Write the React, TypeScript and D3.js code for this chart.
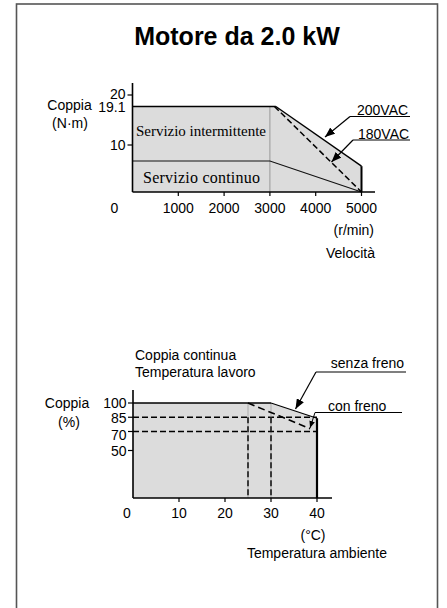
import React from 'react';
import * as d3 from 'd3';

// grafico 1: coppia / velocità
const speedTicks = [1000, 2000, 3000, 4000, 5000];
const torqueTicks = [10, 19.1, 20];
const curve200 = [
  { s: 0, t: 19.1 },
  { s: 3130, t: 19.1 },
  { s: 5000, t: 5.5 },
  { s: 5000, t: 0 },
];
const curve180 = [
  { s: 3100, t: 19.1 },
  { s: 5000, t: 0 },
];
const continuo = [
  { s: 0, t: 6.6 },
  { s: 3000, t: 6.6 },
  { s: 5000, t: 0 },
];

// grafico 2: coppia % / temperatura
const tempTicks = [10, 20, 30, 40];
const pctTicks = [50, 70, 85, 100];
const senzaFreno = [
  { c: 0, p: 100 },
  { c: 30, p: 100 },
  { c: 40, p: 84 },
  { c: 40, p: 0 },
];
const conFreno = [
  { c: 25, p: 100 },
  { c: 38.5, p: 73 },
];
const guideTemps = [25, 30];
const guidePcts = [85, 70];

const SANS = '"Liberation Sans", Arial, sans-serif';
const SERIF = '"Liberation Serif", "Times New Roman", serif';
const FILL = '#dcdcdc';

// piccoli aggiustamenti verticali delle etichette, come nell'originale
const torqueLabelDy: Record<string, number> = { '20': 4, '19.1': 5.5, '10': 5 };
const pctLabelDy: Record<string, number> = { '100': 4.5, '85': 5.5, '70': 8, '50': 5 };

const App: React.FC = () => {
  const x1 = d3.scaleLinear().domain([0, 5000]).range([132.5, 361.5]);
  const y1 = d3.scaleLinear().domain([0, 10, 19.1, 20]).range([192, 145, 106.5, 95]);

  const x2 = d3.scaleLinear().domain([0, 40]).range([133, 317]);
  const y2 = d3.scaleLinear().domain([0, 100]).range([498, 403]);

  const line1 = d3.line<{ s: number; t: number }>().x(d => x1(d.s)).y(d => y1(d.t));
  const area1 = d3.area<{ s: number; t: number }>().x(d => x1(d.s)).y0(y1(0)).y1(d => y1(d.t));
  const line2 = d3.line<{ c: number; p: number }>().x(d => x2(d.c)).y(d => y2(d.p));
  const area2 = d3.area<{ c: number; p: number }>().x(d => x2(d.c)).y0(y2(0)).y1(d => y2(d.p));

  const top = curve200.slice(0, 2);
  const slope200 = curve200.slice(1, 3);
  const edge200 = curve200.slice(2);

  return (
    <svg width={447} height={608} style={{ position: 'absolute', left: 0, top: 0, background: '#fff' }}>
      <defs>
        <marker id="arr" viewBox="0 0 10 8" refX={10} refY={4} markerWidth={10} markerHeight={8}
          markerUnits="userSpaceOnUse" orient="auto">
          <path d="M0,0 L10,4 L0,8 z" fill="#000" />
        </marker>
        <marker id="arrS" viewBox="0 0 10 8" refX={10} refY={4} markerWidth={7} markerHeight={6}
          markerUnits="userSpaceOnUse" orient="auto">
          <path d="M0,0 L10,4 L0,8 z" fill="#000" />
        </marker>
      </defs>

      {/* cornice */}
      <rect x={16.5} y={4} width={421} height={640} fill="none" stroke="#555" strokeWidth={1.6} />

      <text x={237} y={45} textAnchor="middle" fontFamily={SANS} fontWeight="bold" fontSize={25}>
        Motore da 2.0 kW
      </text>

      {/* ---------- grafico 1 ---------- */}
      <path d={area1(curve200) || ''} fill={FILL} />
      <line x1={x1(3000)} x2={x1(3000)} y1={y1(19.1)} y2={y1(0)} stroke="#888" strokeWidth={0.8} />
      <path d={line1(continuo) || ''} fill="none" stroke="#111" strokeWidth={1.2} />
      <path d={line1(top) || ''} fill="none" stroke="#000" strokeWidth={1.6} />
      <path d={line1(slope200) || ''} fill="none" stroke="#000" strokeWidth={1.4} />
      <path d={line1(edge200) || ''} fill="none" stroke="#000" strokeWidth={2} />
      <path d={line1(curve180) || ''} fill="none" stroke="#000" strokeWidth={1.5} strokeDasharray="6,3" />

      {/* assi */}
      <line x1={x1(0)} x2={x1(0)} y1={83} y2={y1(0)} stroke="#000" strokeWidth={1.6} />
      <line x1={x1(0)} x2={375} y1={y1(0)} y2={y1(0)} stroke="#000" strokeWidth={1.6} />
      {speedTicks.map(v => (
        <g key={v}>
          <line x1={x1(v)} x2={x1(v)} y1={y1(0)} y2={y1(0) + 4} stroke="#000" strokeWidth={1.2} />
          <text x={x1(v)} y={213} textAnchor="middle" fontFamily={SANS} fontSize={14}>{v}</text>
        </g>
      ))}
      <text x={x1(0) - 18} y={213} textAnchor="middle" fontFamily={SANS} fontSize={14}>0</text>
      {torqueTicks.map(v => (
        <g key={v}>
          {v !== 19.1 && (
            <line x1={x1(0) - 5} x2={x1(0)} y1={y1(v)} y2={y1(v)} stroke="#000" strokeWidth={1.2} />
          )}
          <text x={125.5} y={y1(v) + torqueLabelDy[String(v)]} textAnchor="end" fontFamily={SANS}
            fontSize={14}>{v}</text>
        </g>
      ))}

      <text x={69.5} y={110} textAnchor="middle" fontFamily={SANS} fontSize={14}>Coppia</text>
      <text x={70} y={128} textAnchor="middle" fontFamily={SANS} fontSize={14}>(N·m)</text>
      <text x={374} y={235} textAnchor="end" fontFamily={SANS} fontSize={14}>(r/min)</text>
      <text x={375} y={258} textAnchor="end" fontFamily={SANS} fontSize={14}>Velocità</text>

      <text x={136} y={136} fontFamily={SERIF} fontSize={15} textLength={130} lengthAdjust="spacing">
        Servizio intermittente
      </text>
      <text x={143} y={183} fontFamily={SERIF} fontSize={16} textLength={117} lengthAdjust="spacing">
        Servizio continuo
      </text>

      {/* etichette tensione */}
      <text x={357} y={115} fontFamily={SANS} fontSize={14}>200VAC</text>
      <line x1={350} x2={410} y1={116.5} y2={116.5} stroke="#000" strokeWidth={1.2} />
      <line x1={350} y1={116.5} x2={325} y2={137} stroke="#000" strokeWidth={1.2} markerEnd="url(#arr)" />
      <text x={358} y={138.5} fontFamily={SANS} fontSize={14}>180VAC</text>
      <line x1={353} x2={410} y1={140} y2={140} stroke="#000" strokeWidth={1.2} />
      <line x1={353} y1={140} x2={331.5} y2={162} stroke="#000" strokeWidth={1.2} markerEnd="url(#arr)" />

      {/* ---------- grafico 2 ---------- */}
      <text x={135} y={360} fontFamily={SANS} fontSize={14}>Coppia continua</text>
      <text x={135} y={377} fontFamily={SANS} fontSize={14}>Temperatura lavoro</text>

      <path d={area2(senzaFreno) || ''} fill={FILL} />
      {guidePcts.map(p => (
        <line key={p} x1={x2(0)} x2={x2(40)} y1={y2(p)} y2={y2(p)} stroke="#000" strokeWidth={1.4}
          strokeDasharray="6,3" />
      ))}
      {guideTemps.map(c => (
        <g key={c}>
          <line x1={x2(c)} x2={x2(c)} y1={y2(100)} y2={y2(0)} stroke="#999" strokeWidth={0.7} />
          <line x1={x2(c)} x2={x2(c)} y1={y2(85)} y2={y2(0)} stroke="#000" strokeWidth={1.4}
            strokeDasharray="6,3" />
        </g>
      ))}
      <path d={line2(conFreno) || ''} fill="none" stroke="#000" strokeWidth={1.6} strokeDasharray="7,4" />
      <path d={line2(senzaFreno.slice(0, 2)) || ''} fill="none" stroke="#000" strokeWidth={1.6} />
      <path d={line2(senzaFreno.slice(1, 3)) || ''} fill="none" stroke="#000" strokeWidth={1.1} />
      <path d={line2(senzaFreno.slice(2)) || ''} fill="none" stroke="#000" strokeWidth={2.2} />

      <line x1={x2(0)} x2={x2(0)} y1={390} y2={y2(0)} stroke="#000" strokeWidth={1.6} />
      <line x1={x2(0)} x2={332} y1={y2(0)} y2={y2(0)} stroke="#000" strokeWidth={1.6} />
      {tempTicks.map(v => (
        <g key={v}>
          <line x1={x2(v)} x2={x2(v)} y1={y2(0)} y2={y2(0) + 4} stroke="#000" strokeWidth={1.2} />
          <text x={x2(v)} y={518} textAnchor="middle" fontFamily={SANS} fontSize={14}>{v}</text>
        </g>
      ))}
      <text x={x2(0) - 6} y={518} textAnchor="middle" fontFamily={SANS} fontSize={14}>0</text>
      {pctTicks.map(v => (
        <g key={v}>
          <line x1={x2(0) - 5} x2={x2(0)} y1={y2(v)} y2={y2(v)} stroke="#000" strokeWidth={1.2} />
          <text x={126.5} y={y2(v) + pctLabelDy[String(v)]} textAnchor="end" fontFamily={SANS}
            fontSize={14}>{v}</text>
        </g>
      ))}

      <text x={67} y={408} textAnchor="middle" fontFamily={SANS} fontSize={14}>Coppia</text>
      <text x={69} y={426.5} textAnchor="middle" fontFamily={SANS} fontSize={14}>(%)</text>
      <text x={313} y={540} textAnchor="middle" fontFamily={SANS} fontSize={14}>(°C)</text>
      <text x={387} y={558} textAnchor="end" fontFamily={SANS} fontSize={14}>Temperatura ambiente</text>

      {/* etichette freno */}
      <text x={404} y={368} textAnchor="end" fontFamily={SANS} fontSize={14}>senza freno</text>
      <line x1={316} x2={406} y1={372} y2={372} stroke="#000" strokeWidth={1.2} />
      <line x1={316} y1={372} x2={295.5} y2={409} stroke="#000" strokeWidth={1.2} markerEnd="url(#arr)" />
      <text x={328} y={410.5} fontFamily={SANS} fontSize={14}>con freno</text>
      <line x1={315} x2={402} y1={412.5} y2={412.5} stroke="#000" strokeWidth={1.2} />
      <line x1={315} y1={412.5} x2={310} y2={428} stroke="#000" strokeWidth={1} markerEnd="url(#arrS)" />
    </svg>
  );
};

export default App;
